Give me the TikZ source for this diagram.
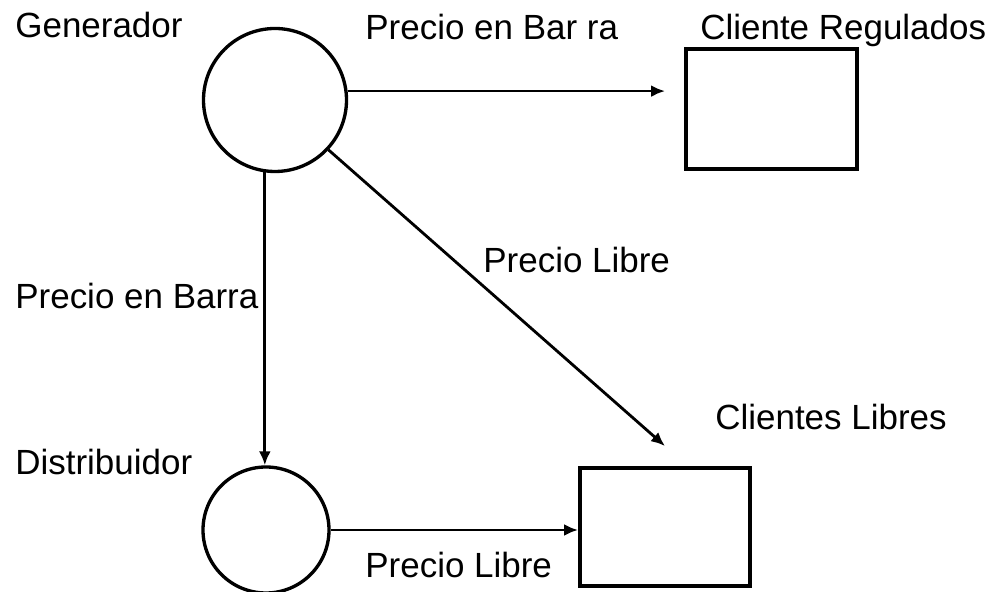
\documentclass[tikz,border=0pt]{standalone}
\usepackage{fontspec}
\setmainfont{Liberation Sans}
\usepackage{tikz}
\usetikzlibrary{arrows.meta}
\usetikzlibrary{calc}
\tikzset{>=latex}
\tikzset{
	agente/.style={circle, draw, line width=1.9pt, minimum size=2.86cm, inner sep=0pt},
	cliente/.style={rectangle, draw, line width=2.2pt, inner sep=0pt},
	etiqueta/.style={anchor=base west, inner sep=0pt, font=\fontsize{19.9}{24}\selectfont},
	flujo/.style={-{Latex[length=0.28cm,width=0.24cm]}, line width=1.6pt}
}

\begin{document}
\begin{tikzpicture}
	\useasboundingbox (0,0) rectangle (20,11.84);

	\node[agente] (gen) at (5.5,9.84) {};
	\node[agente, minimum size=2.52cm] (dist) at (5.32,1.24) {};
	\node[cliente, minimum width=3.42cm, minimum height=2.4cm] (reg) at (15.43,9.66) {};
	\node[cliente, minimum width=3.4cm, minimum height=2.36cm] (lib) at (13.3,1.3) {};

	\node[etiqueta] (tgen) at (0.3,11.08) {Generador};
	\node[etiqueta] (tbarra1) at (7.3,11.04) {Precio en Bar ra};
	\node[etiqueta] (treg) at (14.0,11.04) {Cliente Regulados};
	\node[etiqueta] (tbarra2) at (0.3,5.66) {Precio en Barra};
	\node[etiqueta] (tdist) at (0.3,2.34) {Distribuidor};
	\node[etiqueta] (tlibre1) at (9.66,6.38) {Precio Libre};
	\node[etiqueta] (tlib) at (14.3,3.24) {Clientes Libres};
	\node[etiqueta] (tlibre2) at (7.3,0.28) {Precio Libre};

	\draw[flujo, shorten >=0.38cm] (gen.7) -- (gen.7 -| reg.west);
	\draw[flujo] (gen.-43) -- ([yshift=0.4cm]lib.north);
	\draw[flujo] (gen.-98) -- (gen.-98 |- dist.north);
	\draw[flujo] (dist.east) -- (dist.east -| lib.west);

\end{tikzpicture}
\end{document}
